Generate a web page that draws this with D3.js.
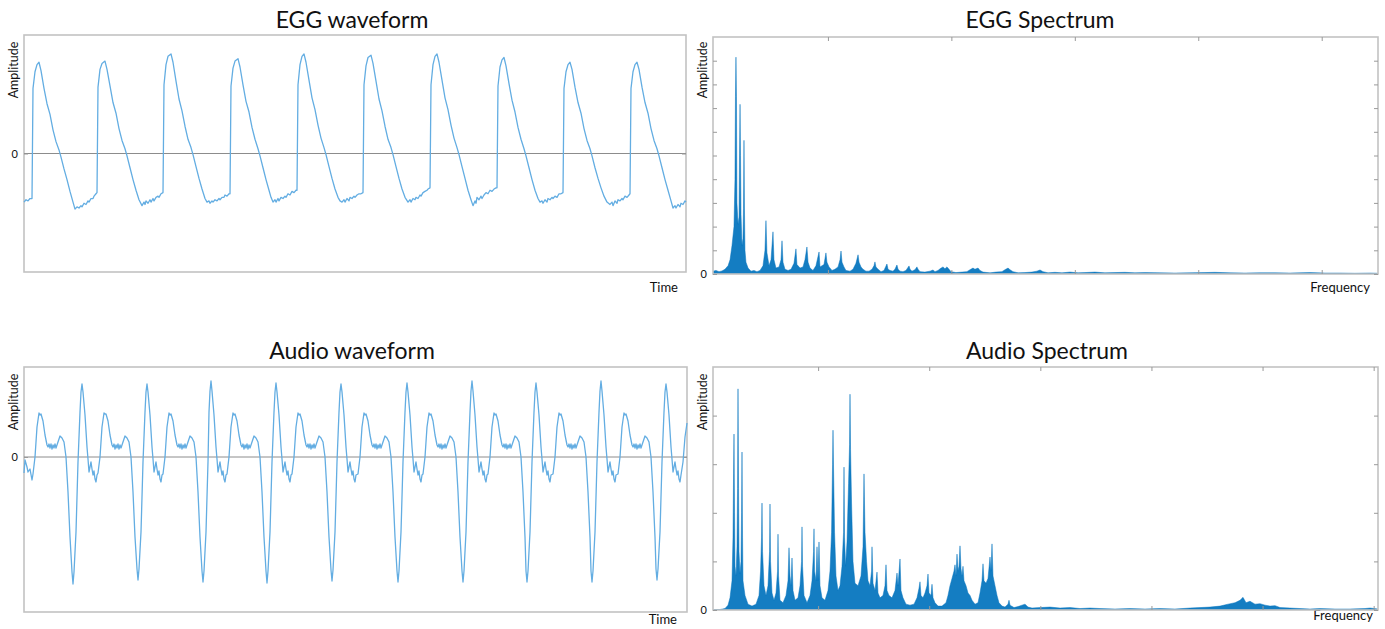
<!DOCTYPE html>
<html><head><meta charset="utf-8">
<script src="https://cdn.jsdelivr.net/npm/d3@7"></script>
<style>
body{margin:0;background:#fff}
svg{display:block}
text{font-family:Lato,"Open Sans",sans-serif;fill:#111}
</style>
</head><body>
<svg id="c" width="1385" height="629"></svg>
<script>
// ---------- DATA ----------
const titles = ["EGG waveform", "EGG Spectrum", "Audio waveform", "Audio Spectrum"];
const xLabels = ["Time", "Frequency", "Time", "Frequency"];
const yLabel = "Amplitude";

// EGG waveform: [time (samples), amplitude]
const eggWave = [
[0,-0.41],[2,-0.39],[4,-0.40],[6,-0.38],[8,-0.38],
[9,0.55],[11,0.69],[13,0.75],[15,0.77],[17,0.70],[20,0.55],[23,0.42],[26,0.33],[29,0.20],[32,0.10],[35,0.03],[37,-0.03],[40,-0.13],[43,-0.22],[46,-0.32],[49,-0.41],[51,-0.47],[53,-0.45],[55,-0.46],[57,-0.44],[58,-0.45],[60,-0.42],[62,-0.43],[64,-0.40],[65,-0.41],[67,-0.38],[69,-0.38],[70,-0.36],[72,-0.34],[73,-0.33],
[74,0.56],[76,0.71],[78,0.76],[81,0.78],[83,0.71],[86,0.57],[89,0.43],[92,0.34],[95,0.21],[98,0.11],[101,0.04],[103,-0.02],[106,-0.12],[109,-0.22],[112,-0.31],[115,-0.39],[118,-0.44],[120,-0.41],[121,-0.43],[122,-0.40],[124,-0.42],[126,-0.39],[127,-0.41],[129,-0.38],[130,-0.40],[132,-0.37],[134,-0.36],[135,-0.37],[137,-0.34],[139,-0.33],
[140,0.58],[142,0.75],[144,0.82],[147,0.84],[149,0.77],[152,0.61],[155,0.46],[158,0.36],[161,0.23],[164,0.12],[167,0.05],[169,-0.01],[172,-0.11],[175,-0.21],[178,-0.30],[181,-0.38],[183,-0.41],[185,-0.40],[186,-0.42],[188,-0.40],[189,-0.41],[191,-0.39],[193,-0.40],[195,-0.38],[196,-0.39],[198,-0.37],[200,-0.37],[201,-0.35],[203,-0.36],[205,-0.34],[206,-0.34],
[207,0.57],[209,0.72],[211,0.78],[214,0.80],[216,0.73],[219,0.58],[222,0.44],[225,0.35],[228,0.22],[231,0.12],[234,0.04],[236,-0.02],[239,-0.12],[242,-0.22],[245,-0.31],[247,-0.37],[249,-0.41],[251,-0.39],[252,-0.41],[254,-0.38],[255,-0.40],[257,-0.37],[259,-0.38],[261,-0.36],[262,-0.37],[264,-0.34],[266,-0.35],[268,-0.32],[270,-0.33],[272,-0.31],[273,-0.31],
[274,0.58],[276,0.75],[278,0.82],[280,0.84],[282,0.77],[285,0.62],[288,0.47],[291,0.37],[294,0.24],[297,0.13],[300,0.05],[302,-0.01],[305,-0.11],[308,-0.21],[311,-0.30],[314,-0.37],[316,-0.40],[318,-0.41],[320,-0.39],[321,-0.41],[323,-0.38],[325,-0.40],[326,-0.37],[328,-0.38],[330,-0.36],[331,-0.37],[333,-0.35],[335,-0.34],[337,-0.34],[339,-0.33],
[340,0.58],[342,0.74],[344,0.81],[347,0.83],[349,0.76],[352,0.61],[355,0.46],[358,0.36],[361,0.23],[364,0.12],[367,0.05],[369,-0.01],[372,-0.11],[375,-0.21],[378,-0.30],[381,-0.37],[384,-0.41],[386,-0.39],[387,-0.41],[389,-0.38],[391,-0.39],[392,-0.37],[394,-0.38],[396,-0.35],[397,-0.36],[399,-0.33],[401,-0.32],[403,-0.31],[404,-0.30],[406,-0.29],
[407,0.58],[409,0.75],[411,0.82],[413,0.84],[415,0.77],[418,0.62],[421,0.47],[424,0.37],[427,0.24],[430,0.13],[433,0.05],[435,-0.01],[438,-0.11],[441,-0.21],[444,-0.31],[447,-0.39],[449,-0.44],[451,-0.40],[452,-0.42],[453,-0.37],[455,-0.39],[457,-0.36],[458,-0.38],[460,-0.35],[462,-0.33],[464,-0.34],[466,-0.31],[468,-0.32],[470,-0.30],[472,-0.29],[473,-0.29],
[474,0.57],[476,0.73],[478,0.79],[480,0.81],[482,0.74],[485,0.59],[488,0.45],[491,0.35],[494,0.22],[497,0.12],[500,0.04],[502,-0.02],[505,-0.12],[508,-0.22],[511,-0.31],[514,-0.38],[516,-0.41],[518,-0.40],[519,-0.42],[521,-0.39],[523,-0.41],[524,-0.38],[526,-0.39],[528,-0.37],[529,-0.38],[531,-0.36],[533,-0.37],[535,-0.34],[537,-0.34],[539,-0.33],
[540,0.55],[542,0.69],[544,0.75],[546,0.77],[548,0.71],[551,0.56],[554,0.43],[557,0.34],[560,0.21],[563,0.11],[566,0.04],[568,-0.02],[571,-0.12],[574,-0.21],[577,-0.29],[580,-0.36],[583,-0.41],[586,-0.43],[588,-0.41],[589,-0.44],[591,-0.40],[593,-0.42],[594,-0.39],[596,-0.40],[598,-0.38],[599,-0.39],[601,-0.36],[603,-0.37],[605,-0.35],[606,-0.34],
[607,0.55],[609,0.69],[611,0.75],[613,0.77],[615,0.71],[618,0.56],[621,0.43],[624,0.34],[627,0.21],[630,0.11],[633,0.04],[635,-0.02],[638,-0.12],[641,-0.22],[644,-0.31],[647,-0.40],[649,-0.46],[651,-0.44],[652,-0.46],[654,-0.43],[656,-0.45],[657,-0.42],[659,-0.43],[661,-0.40],[662,-0.41]
];

// Audio waveform: [time (samples), amplitude]
const audioWave = [
[0,-0.16],[1,-0.03],[3,-0.10],[4,-0.15],[6,-0.12],[8,-0.23],[9,-0.17],
[11,0.0],[13,0.30],[15,0.44],[16,0.42],[17,0.43],[19,0.36],[21,0.22],[23,0.12],[24,0.10],[25,0.13],[26,0.09],[27,0.13],[28,0.08],[29,0.12],[30,0.09],[31,0.13],[32,0.09],[33,0.12],[34,0.15],[36,0.21],[37,0.20],[38,0.19],[40,0.15],[42,0.0],[44,-0.35],[46,-0.80],[48,-1.15],[49,-1.27],[50,-1.15],[52,-0.75],[54,-0.05],[56,0.45],[57,0.65],[58,0.73],[59,0.65],[61,0.42],[63,0.10],[64,-0.02],[65,-0.15],[66,-0.10],[67,-0.05],[68,-0.12],[69,-0.18],[70,-0.14],[71,-0.22],[72,-0.25],[73,-0.18],
[74,-0.16],[76,0.0],[78,0.30],[80,0.44],[81,0.43],[82,0.43],[84,0.36],[86,0.22],[88,0.12],[89,0.10],[90,0.13],[91,0.08],[92,0.12],[93,0.09],[94,0.13],[95,0.08],[96,0.12],[97,0.09],[98,0.12],[99,0.15],[101,0.21],[102,0.20],[103,0.19],[105,0.15],[107,0.0],[109,-0.35],[111,-0.80],[113,-1.12],[114,-1.23],[115,-1.12],[117,-0.75],[119,-0.05],[121,0.45],[122,0.65],[123,0.73],[124,0.65],[126,0.42],[128,0.10],[129,-0.02],[130,-0.15],[131,-0.10],[132,-0.05],[133,-0.12],[134,-0.18],[135,-0.14],[136,-0.22],[137,-0.25],[138,-0.18],
[139,-0.17],[141,0.0],[143,0.30],[145,0.44],[146,0.42],[147,0.43],[149,0.36],[151,0.22],[153,0.12],[154,0.10],[155,0.13],[156,0.09],[157,0.13],[158,0.08],[159,0.12],[160,0.09],[161,0.13],[162,0.09],[163,0.12],[164,0.15],[166,0.21],[167,0.20],[168,0.19],[170,0.15],[172,0.0],[174,-0.35],[176,-0.80],[178,-1.14],[179,-1.25],[180,-1.14],[182,-0.75],[184,-0.05],[185,0.45],[186,0.66],[187,0.76],[188,0.66],[190,0.42],[192,0.10],[193,-0.02],[194,-0.15],[195,-0.10],[196,-0.05],[197,-0.12],[198,-0.18],[199,-0.14],[200,-0.22],[201,-0.25],[202,-0.18],
[203,-0.17],[205,0.0],[207,0.30],[209,0.44],[210,0.42],[211,0.43],[213,0.36],[215,0.22],[217,0.12],[218,0.10],[219,0.13],[220,0.08],[221,0.12],[222,0.09],[223,0.13],[224,0.08],[225,0.12],[226,0.09],[227,0.12],[228,0.15],[230,0.21],[231,0.20],[232,0.19],[234,0.15],[236,0.0],[238,-0.35],[240,-0.80],[242,-1.14],[243,-1.26],[244,-1.14],[246,-0.75],[248,-0.05],[250,0.45],[251,0.65],[252,0.74],[253,0.65],[255,0.42],[257,0.10],[258,-0.02],[259,-0.15],[260,-0.10],[261,-0.05],[262,-0.12],[263,-0.18],[264,-0.14],[265,-0.22],[266,-0.25],[267,-0.18],
[268,-0.17],[270,0.0],[272,0.30],[274,0.44],[275,0.42],[276,0.43],[278,0.36],[280,0.22],[282,0.12],[283,0.10],[284,0.13],[285,0.09],[286,0.13],[287,0.08],[288,0.12],[289,0.09],[290,0.13],[291,0.09],[292,0.12],[293,0.15],[295,0.21],[296,0.20],[297,0.19],[299,0.15],[301,0.0],[303,-0.35],[305,-0.80],[307,-1.13],[308,-1.24],[309,-1.13],[311,-0.75],[313,-0.05],[315,0.45],[316,0.65],[317,0.73],[318,0.65],[320,0.42],[322,0.10],[323,-0.02],[324,-0.15],[325,-0.10],[326,-0.05],[327,-0.12],[328,-0.18],[329,-0.14],[330,-0.22],[331,-0.25],[332,-0.18],
[334,-0.17],[336,0.0],[338,0.30],[340,0.44],[341,0.42],[342,0.43],[344,0.36],[346,0.22],[348,0.12],[349,0.10],[350,0.13],[351,0.09],[352,0.13],[353,0.08],[354,0.12],[355,0.09],[356,0.13],[357,0.09],[358,0.12],[359,0.15],[361,0.21],[362,0.20],[363,0.19],[365,0.15],[367,0.0],[369,-0.35],[371,-0.80],[373,-1.14],[374,-1.25],[375,-1.14],[377,-0.75],[379,-0.05],[381,0.45],[382,0.65],[383,0.74],[384,0.65],[386,0.42],[388,0.10],[389,-0.02],[390,-0.15],[391,-0.10],[392,-0.05],[393,-0.12],[394,-0.18],[395,-0.14],[396,-0.22],[397,-0.25],[398,-0.18],
[399,-0.17],[401,0.0],[403,0.30],[405,0.44],[406,0.42],[407,0.43],[409,0.36],[411,0.22],[413,0.12],[414,0.10],[415,0.13],[416,0.09],[417,0.13],[418,0.08],[419,0.12],[420,0.09],[421,0.13],[422,0.09],[423,0.12],[424,0.15],[426,0.21],[427,0.20],[428,0.19],[430,0.15],[432,0.0],[434,-0.35],[436,-0.80],[438,-1.14],[439,-1.25],[440,-1.14],[442,-0.75],[444,-0.05],[446,0.45],[447,0.66],[448,0.76],[449,0.66],[451,0.42],[453,0.10],[454,-0.02],[455,-0.15],[456,-0.10],[457,-0.05],[458,-0.12],[459,-0.18],[460,-0.14],[461,-0.22],[462,-0.25],[463,-0.18],
[464,-0.17],[466,0.0],[468,0.30],[470,0.44],[471,0.42],[472,0.43],[474,0.36],[476,0.22],[478,0.12],[479,0.10],[480,0.13],[481,0.09],[482,0.13],[483,0.08],[484,0.12],[485,0.09],[486,0.13],[487,0.09],[488,0.12],[489,0.15],[491,0.21],[492,0.20],[493,0.19],[495,0.15],[497,0.0],[499,-0.35],[501,-0.80],[502,-1.14],[503,-1.25],[504,-1.14],[506,-0.75],[508,-0.05],[510,0.45],[511,0.65],[512,0.74],[513,0.65],[515,0.42],[517,0.10],[518,-0.02],[519,-0.15],[520,-0.10],[521,-0.05],[522,-0.12],[523,-0.18],[524,-0.14],[525,-0.22],[526,-0.25],[527,-0.18],
[529,-0.17],[531,0.0],[533,0.30],[535,0.44],[536,0.42],[537,0.43],[539,0.36],[541,0.22],[543,0.12],[544,0.10],[545,0.13],[546,0.09],[547,0.13],[548,0.08],[549,0.12],[550,0.09],[551,0.13],[552,0.09],[553,0.12],[554,0.15],[556,0.21],[557,0.20],[558,0.19],[560,0.15],[562,0.0],[564,-0.35],[566,-0.80],[567,-1.14],[568,-1.25],[569,-1.14],[571,-0.75],[573,-0.05],[575,0.45],[576,0.66],[577,0.76],[578,0.66],[580,0.42],[582,0.10],[583,-0.02],[584,-0.15],[585,-0.10],[586,-0.05],[587,-0.12],[588,-0.18],[589,-0.14],[590,-0.22],[591,-0.25],[592,-0.18],
[594,-0.17],[596,0.0],[598,0.30],[600,0.44],[601,0.42],[602,0.43],[604,0.36],[606,0.22],[608,0.12],[609,0.10],[610,0.13],[611,0.09],[612,0.13],[613,0.08],[614,0.12],[615,0.09],[616,0.13],[617,0.09],[618,0.12],[619,0.15],[621,0.21],[622,0.20],[623,0.19],[625,0.15],[627,0.0],[629,-0.35],[631,-0.80],[632,-1.12],[633,-1.23],[634,-1.12],[636,-0.75],[638,-0.05],[640,0.45],[641,0.65],[642,0.73],[643,0.65],[645,0.42],[647,0.10],[648,-0.02],[649,-0.15],[650,-0.10],[651,-0.05],[652,-0.12],[653,-0.18],[654,-0.14],[655,-0.22],[656,-0.25],[657,-0.18],[659,-0.05],[661,0.20],[663,0.34]
];

// EGG spectrum: [frequency Hz, amplitude]
const eggSpec = [
[69,0.12],[93,0.15],[118,0.10],[142,0.13],[166,0.20],[191,0.35],[207,0.6],[223,1.2],[239,2.0],[247,4.0],[251,7.5],[255,9.15],[259,7.5],[263,3.0],[272,2.1],[280,2.4],[284,5.1],[288,7.16],[292,5.0],[296,2.5],[304,1.2],[312,1.5],[316,2.75],[320,5.64],[324,2.7],[328,1.0],[336,0.5],[353,0.25],[377,0.12],[401,0.15],[425,0.10],[450,0.15],[474,0.35],[490,1.0],[498,2.25],[506,0.9],[523,0.35],[539,0.6],[555,1.78],[563,0.6],[579,0.25],[604,0.3],[620,0.6],[628,1.40],[636,0.5],[652,0.2],[677,0.15],[701,0.2],[725,0.45],[741,1.06],[749,0.4],[774,0.25],[798,0.3],[814,0.6],[830,1.14],[839,0.5],[855,0.25],[879,0.15],[903,0.35],[928,0.93],[936,0.3],[952,0.35],[968,0.4],[984,0.89],[992,0.5],[1009,0.3],[1033,0.15],[1057,0.2],[1082,0.3],[1098,0.6],[1106,0.97],[1114,0.5],[1130,0.3],[1146,0.15],[1179,0.12],[1203,0.2],[1227,0.45],[1244,0.81],[1252,0.5],[1268,0.3],[1284,0.2],[1308,0.12],[1333,0.12],[1357,0.2],[1373,0.35],[1381,0.51],[1389,0.3],[1406,0.2],[1430,0.10],[1454,0.15],[1478,0.42],[1487,0.2],[1503,0.15],[1527,0.12],[1543,0.2],[1559,0.38],[1568,0.2],[1584,0.12],[1608,0.10],[1632,0.15],[1657,0.34],[1665,0.2],[1681,0.12],[1705,0.18],[1721,0.30],[1730,0.2],[1746,0.10],[1786,0.08],[1827,0.12],[1851,0.17],[1867,0.10],[1892,0.15],[1908,0.22],[1932,0.30],[1948,0.22],[1964,0.30],[1981,0.2],[1997,0.10],[2037,0.06],[2086,0.08],[2126,0.10],[2151,0.18],[2175,0.25],[2191,0.2],[2216,0.25],[2232,0.15],[2256,0.08],[2313,0.05],[2361,0.08],[2410,0.10],[2434,0.18],[2459,0.25],[2475,0.18],[2499,0.10],[2540,0.05],[2596,0.06],[2653,0.08],[2693,0.12],[2718,0.17],[2742,0.10],[2783,0.05],[2839,0.07],[2896,0.05],[2961,0.08],[3026,0.05],[3082,0.06],[3163,0.08],[3244,0.05],[3325,0.06],[3406,0.07],[3487,0.05],[3568,0.06],[3690,0.05],[3811,0.04],[3933,0.05],[4054,0.06],[4135,0.07],[4257,0.05],[4378,0.04],[4500,0.05],[4621,0.05],[4743,0.04],[4905,0.06],[5026,0.04],[5148,0.04],[5269,0.03],[5391,0.04],[5456,0.03]
];

// Audio spectrum: [frequency Hz, amplitude]
const audioSpec = [
[54,0.01],[117,0.01],[162,0.03],[189,0.1],[207,0.25],[225,0.6],[234,1.5],[239,2.8],[243,3.62],[248,2.0],[252,0.9],[261,0.7],[270,1.3],[275,2.5],[279,4.55],[284,2.5],[288,1.2],[297,0.75],[306,1.0],[311,2.0],[315,3.25],[320,1.5],[324,0.6],[342,0.3],[369,0.12],[405,0.08],[441,0.12],[468,0.3],[482,0.8],[491,1.5],[495,2.20],[500,1.2],[513,0.5],[531,0.3],[549,0.5],[563,1.2],[567,2.18],[572,1.0],[585,0.35],[603,0.2],[621,0.35],[635,0.8],[639,1.56],[644,0.7],[657,0.2],[684,0.15],[711,0.3],[729,0.6],[738,1.28],[747,0.7],[756,0.5],[765,1.07],[774,0.4],[792,0.2],[819,0.25],[837,0.5],[851,1.0],[855,1.71],[860,0.9],[873,0.3],[900,0.15],[927,0.3],[945,0.6],[959,1.2],[963,1.67],[968,0.8],[981,0.6],[990,1.30],[999,0.6],[1008,1.40],[1017,0.5],[1035,0.25],[1062,0.2],[1089,0.4],[1107,0.8],[1121,1.6],[1130,3.0],[1134,3.70],[1139,2.9],[1148,1.6],[1161,0.7],[1179,0.4],[1197,0.5],[1215,0.9],[1229,1.6],[1233,2.94],[1238,1.5],[1247,0.9],[1260,1.4],[1274,2.6],[1283,3.4],[1287,4.44],[1292,3.3],[1301,2.2],[1314,1.0],[1332,0.55],[1359,0.5],[1386,0.7],[1404,1.3],[1413,2.80],[1422,1.6],[1436,1.0],[1449,0.6],[1467,0.5],[1481,0.8],[1485,1.30],[1494,0.55],[1512,0.4],[1530,0.78],[1539,0.35],[1557,0.25],[1584,0.3],[1602,0.5],[1611,0.93],[1620,0.4],[1638,0.3],[1665,0.25],[1692,0.4],[1710,0.76],[1719,0.5],[1737,1.05],[1746,0.4],[1764,0.25],[1791,0.12],[1827,0.10],[1863,0.12],[1890,0.25],[1908,0.45],[1917,0.58],[1926,0.3],[1944,0.25],[1962,0.35],[1980,0.5],[1989,0.74],[1998,0.35],[2016,0.3],[2025,0.53],[2034,0.25],[2052,0.15],[2079,0.08],[2115,0.08],[2151,0.15],[2169,0.3],[2187,0.5],[2205,0.65],[2223,0.8],[2232,0.93],[2241,0.7],[2250,1.15],[2259,0.8],[2268,0.9],[2277,1.32],[2286,0.85],[2295,0.7],[2304,0.9],[2313,0.6],[2331,0.5],[2349,0.35],[2367,0.3],[2385,0.2],[2412,0.12],[2439,0.15],[2457,0.35],[2475,0.6],[2484,0.95],[2493,0.6],[2511,0.55],[2529,0.65],[2547,1.09],[2556,0.8],[2565,1.36],[2574,0.7],[2592,0.5],[2610,0.3],[2628,0.15],[2655,0.08],[2682,0.06],[2709,0.12],[2718,0.2],[2727,0.1],[2763,0.05],[2799,0.07],[2835,0.10],[2862,0.12],[2889,0.06],[2925,0.04],[2997,0.05],[3087,0.06],[3177,0.04],[3267,0.05],[3357,0.03],[3447,0.04],[3537,0.03],[3672,0.02],[3807,0.03],[3942,0.02],[4077,0.03],[4212,0.02],[4347,0.04],[4437,0.05],[4527,0.06],[4617,0.08],[4689,0.12],[4752,0.15],[4797,0.2],[4824,0.26],[4851,0.15],[4887,0.18],[4932,0.12],[4977,0.13],[5022,0.10],[5067,0.08],[5112,0.09],[5157,0.05],[5247,0.04],[5337,0.03],[5427,0.02],[5517,0.03],[5652,0.02],[5787,0.02],[5922,0.03],[5967,0.04],[6039,0.02]
];

const eggSpecTicksY = [0,1,2,3,4,5,6,7,8,9];
const eggSpecTicksX = [1000,2000,3000,4000,5000];
const audioSpecTicksY = [0,1,2,3,4];
const audioSpecTicksX = [1000,2000,3000,4000,5000,6000];

// ---------- DRAW ----------
const svg = d3.select("#c");
const WAVE = "#63ade2", SPEC = "#0072bd", FRAME = "#c2c2c2";

function panel(cfg){
  const g = svg.append("g");
  const x = d3.scaleLinear().domain(cfg.xd).range([cfg.l, cfg.r]);
  const y = d3.scaleLinear().domain(cfg.yd).range([cfg.b, cfg.t]);
  g.append("text").attr("x", cfg.tx).attr("y", cfg.ty).attr("text-anchor","middle")
    .style("font-size","23px").text(cfg.title);
  g.append("text").attr("transform",`translate(${cfg.l-6},${cfg.ly}) rotate(-90)`)
    .attr("text-anchor","middle").style("font-size","12.5px").text(yLabel);
  g.append("text").attr("x", cfg.xlx).attr("y", cfg.xly).attr("text-anchor","end")
    .style("font-size","13px").text(cfg.xlabel);
  return {g,x,y};
}

function axes(p, cfg, yt, xt){
  const ax = (a)=>a.tickSizeOuter(0);
  const left = p.g.append("g").attr("transform",`translate(${cfg.l},0)`)
    .call(ax(d3.axisLeft(p.y).tickValues(yt).tickSize(-4).tickPadding(6).tickFormat(d=>d===0?"0":"")));
  const right = p.g.append("g").attr("transform",`translate(${cfg.r},0)`)
    .call(ax(d3.axisRight(p.y).tickValues(yt).tickSize(-4).tickFormat("")));
  const sel = [left,right];
  if (xt){
    sel.push(p.g.append("g").attr("transform",`translate(0,${cfg.t})`)
      .call(ax(d3.axisTop(p.x).tickValues(xt).tickSize(-4).tickFormat(""))));
    sel.push(p.g.append("g").attr("transform",`translate(0,${cfg.b})`)
      .call(ax(d3.axisBottom(p.x).tickValues(xt).tickSize(-4).tickFormat(""))));
  }
  sel.forEach(s=>{
    s.select(".domain").remove();
    s.selectAll(".tick line").attr("stroke","#9a9a9a");
    s.selectAll(".tick text").style("font-size","11px").style("font-family","Lato,sans-serif").attr("fill","#111");
  });
}

function frame(p, cfg){
  p.g.append("rect").attr("x",cfg.l).attr("y",cfg.t).attr("width",cfg.r-cfg.l).attr("height",cfg.b-cfg.t)
    .attr("fill","none").attr("stroke",FRAME).attr("stroke-width",1.6);
}

function wave(cfg, data){
  const p = panel(cfg);
  frame(p,cfg);
  p.g.append("line").attr("x1",cfg.l).attr("x2",cfg.r).attr("y1",p.y(0)).attr("y2",p.y(0))
    .attr("stroke","#8c8c8c").attr("stroke-width",1);
  axes(p,cfg,[0],null);
  p.g.append("path").datum(data)
    .attr("d", d3.line().x(d=>p.x(d[0])).y(d=>p.y(d[1])))
    .attr("fill","none").attr("stroke",WAVE).attr("stroke-width",1.3).attr("stroke-linejoin","round");
}

function spec(cfg, data, yt, xt){
  const p = panel(cfg);
  p.g.append("path").datum(data)
    .attr("d", d3.area().x(d=>p.x(d[0])).y0(p.y(0)).y1(d=>p.y(d[1])))
    .attr("fill",SPEC).attr("fill-opacity",0.92);
  p.g.append("path").datum(data)
    .attr("d", d3.line().x(d=>p.x(d[0])).y(d=>p.y(d[1])))
    .attr("fill","none").attr("stroke",SPEC).attr("stroke-width",0.8).attr("stroke-opacity",0.6);
  frame(p,cfg);
  axes(p,cfg,yt,xt);
}

wave({title:titles[0], xlabel:xLabels[0], l:24, r:686, t:35, b:272, xd:[0,662], yd:[-1,1],
      tx:352, ty:28, ly:70, xlx:678, xly:292}, eggWave);
spec({title:titles[1], xlabel:xLabels[1], l:713, r:1378, t:37, b:274, xd:[69,5456], yd:[0,10],
      tx:1040, ty:28, ly:70, xlx:1370, xly:292}, eggSpec, eggSpecTicksY, eggSpecTicksX);
wave({title:titles[2], xlabel:xLabels[2], l:24, r:687, t:367, b:612, xd:[0,663], yd:[-1.55,0.90],
      tx:352, ty:359, ly:402, xlx:677, xly:624}, audioWave);
spec({title:titles[3], xlabel:xLabels[3], l:713, r:1378, t:367, b:610, xd:[54,6039], yd:[0,5],
      tx:1047, ty:359, ly:402, xlx:1373, xly:620}, audioSpec, audioSpecTicksY, audioSpecTicksX);
</script>
</body></html>
